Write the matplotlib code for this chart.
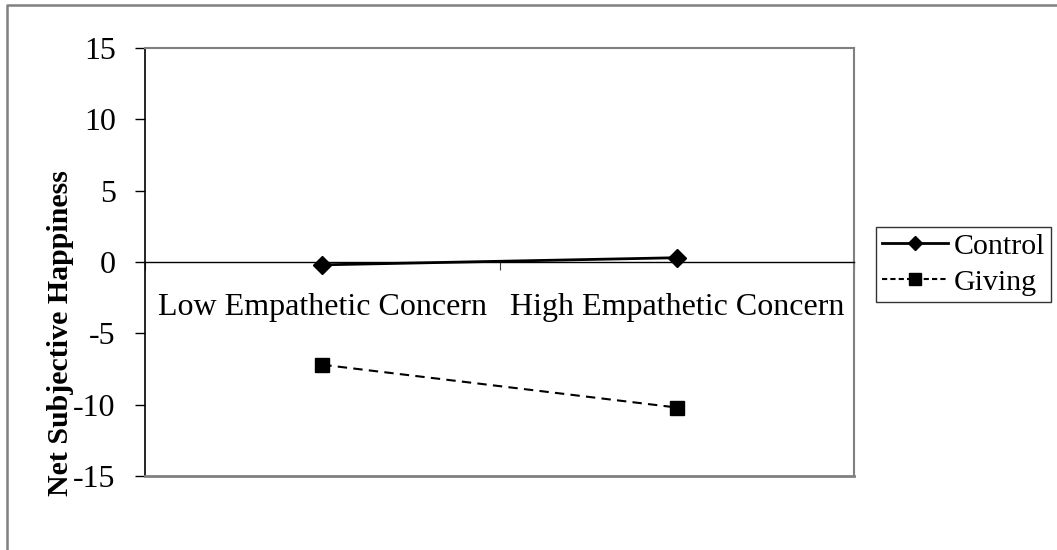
import matplotlib
matplotlib.use("Agg")
import matplotlib.pyplot as plt
from matplotlib.lines import Line2D

categories = ["Low Empathetic Concern", "High Empathetic Concern"]
control = [-0.2, 0.3]
giving = [-7.2, -10.2]
yticks = [-15, -10, -5, 0, 5, 10, 15]

plt.rcParams['font.family'] = ['Liberation Serif', 'DejaVu Serif']

W, H = 1057, 550
fig = plt.figure(figsize=(W/100, H/100), dpi=100)
ax = fig.add_axes([145/W, 1-476/H, (854-145)/W, (476-48)/H])

xpos = [1, 2]
ax.plot(xpos, control, color='black', lw=2.0, marker='D', markersize=9, label='Control', zorder=5)
ax.plot(xpos, giving, color='black', lw=1.5, ls=(0, (4.5, 3)), marker='s', markersize=10, label='Giving', zorder=5)

ax.set_xlim(0.5, 2.5)
ax.set_ylim(-15, 15)
ax.set_yticks(yticks)
ax.set_yticklabels([str(v) for v in yticks], fontsize=23)
ax.tick_params(axis='y', direction='out', length=7, width=1, pad=14, colors='black')

gray = '#808080'
for s in ['top', 'right']:
    ax.spines[s].set_color(gray)
    ax.spines[s].set_linewidth(1.5)
ax.spines['left'].set_color('black')
ax.spines['left'].set_linewidth(1.2)
ax.spines['bottom'].set_position(('data', 0))
ax.spines['bottom'].set_color('black')
ax.spines['bottom'].set_linewidth(1.0)
ax.axhline(-15, color=gray, lw=2.0, clip_on=False, zorder=3)

ax.set_xticks([0.5, 1.5, 2.5])
ax.set_xticklabels([])
ax.tick_params(axis='x', which='major', direction='out', length=6, width=0.8, color='#404040')
ax.set_xticks(xpos, minor=True)
ax.set_xticklabels(categories, minor=True, fontsize=23)
ax.tick_params(axis='x', which='minor', length=0, pad=22)

fig.text(61/W, 1-333/H, 'Net Subjective Happiness', rotation=90, fontsize=21.5,
         fontweight='bold', ha='center', va='center')

leg = ax.legend(loc='upper left', bbox_to_anchor=(876/W, 1-227/H), bbox_transform=fig.transFigure,
                borderaxespad=0, fontsize=21.5, frameon=True, fancybox=False, edgecolor='black',
                handlelength=2.2, handletextpad=0.2, borderpad=0.2, labelspacing=0.3)
leg.get_frame().set_linewidth(1.0)
hs = leg.legend_handles
hs[0].set_markersize(7)
hs[1].set_markersize(8)
hs[1].set_linestyle((0, (2.5, 1.5)))

fig.add_artist(Line2D([7/W, 7/W, 1], [0, 1-5/H, 1-5/H], transform=fig.transFigure,
                      color=gray, lw=1.8))

fig.savefig('out.png', dpi=100)
